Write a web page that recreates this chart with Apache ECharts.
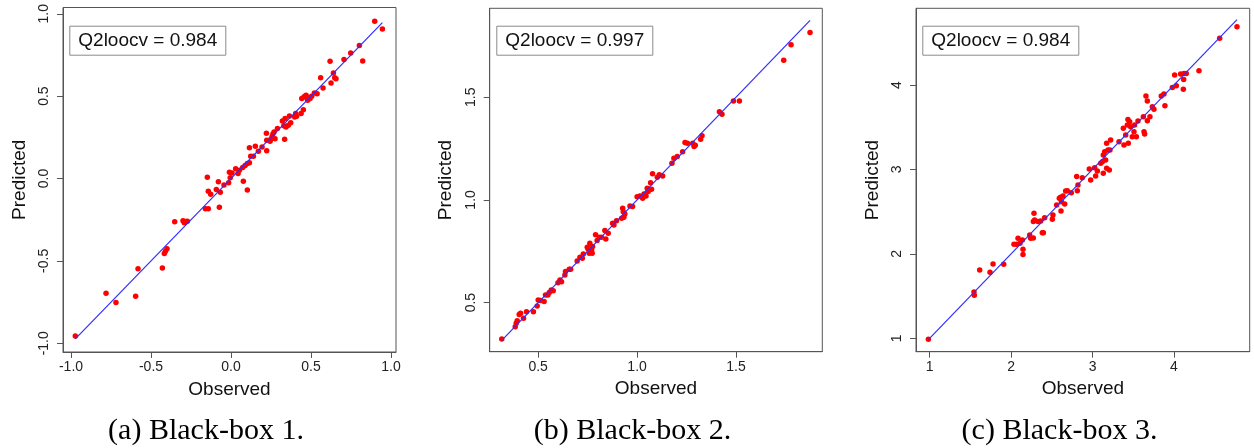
<!DOCTYPE html>
<html><head><meta charset="utf-8">
<script src="https://cdn.jsdelivr.net/npm/echarts@6/dist/echarts.min.js"></script>
<style>html,body{margin:0;padding:0;background:#fff}#c{width:1254px;height:448px}</style>
</head><body><div id="c"></div>
<script>
// ---- Data ----
const obs1 = [-0.973,-0.781,-0.719,-0.596,-0.581,-0.429,-0.417,-0.410,-0.400,-0.352,-0.300,-0.292,-0.283,-0.273,-0.160,-0.142,-0.148,-0.142,-0.127,-0.092,-0.079,-0.067,-0.073,-0.044,-0.015,-0.010,0.006,0.029,0.044,0.052,0.077,0.102,0.073,0.088,0.102,0.115,0.115,0.123,0.140,0.152,0.171,0.194,0.223,0.221,0.223,0.244,0.258,0.269,0.275,0.290,0.335,0.321,0.338,0.344,0.358,0.365,0.373,0.398,0.404,0.410,0.438,0.452,0.442,0.456,0.469,0.479,0.483,0.494,0.504,0.521,0.538,0.560,0.575,0.619,0.625,0.640,0.656,0.706,0.748,0.802,0.823,0.898,0.946,0.250,0.262,0.330,0.462,0.648,-0.005];
const pred1 = [-0.956,-0.697,-0.752,-0.715,-0.547,-0.543,-0.455,-0.441,-0.426,-0.263,-0.257,-0.269,-0.261,-0.259,-0.184,-0.184,0.008,-0.077,-0.095,-0.067,-0.020,-0.083,-0.174,-0.040,-0.026,0.038,0.034,0.059,0.030,0.050,-0.016,-0.069,0.067,0.079,0.091,0.095,0.186,0.135,0.135,0.196,0.166,0.192,0.168,0.275,0.232,0.226,0.257,0.283,0.242,0.303,0.238,0.349,0.364,0.313,0.323,0.380,0.339,0.374,0.394,0.378,0.394,0.418,0.485,0.495,0.505,0.475,0.491,0.485,0.499,0.519,0.515,0.612,0.549,0.711,0.580,0.640,0.606,0.723,0.762,0.808,0.713,0.954,0.907,0.240,0.270,0.320,0.500,0.612,0.005];

const obs2 = [0.316,0.384,0.389,0.394,0.404,0.411,0.426,0.441,0.476,0.495,0.500,0.512,0.530,0.537,0.549,0.556,0.566,0.576,0.600,0.610,0.618,0.635,0.638,0.657,0.664,0.697,0.711,0.723,0.728,0.748,0.753,0.761,0.758,0.770,0.773,0.775,0.790,0.798,0.809,0.820,0.837,0.842,0.854,0.876,0.883,0.896,0.922,0.927,0.930,0.938,0.933,0.964,0.977,1.000,1.014,1.028,1.035,1.045,1.051,1.056,1.068,1.073,1.078,1.102,1.112,1.129,1.176,1.186,1.203,1.230,1.242,1.254,1.281,1.288,1.294,1.321,1.328,1.416,1.429,1.487,1.517,1.741,1.778,1.874];
const pred2 = [0.323,0.383,0.399,0.412,0.442,0.448,0.424,0.456,0.456,0.484,0.513,0.510,0.505,0.537,0.537,0.549,0.562,0.558,0.597,0.610,0.602,0.635,0.651,0.662,0.662,0.703,0.721,0.716,0.737,0.769,0.760,0.789,0.740,0.756,0.740,0.773,0.830,0.802,0.818,0.818,0.851,0.810,0.838,0.886,0.878,0.899,0.911,0.959,0.943,0.932,0.916,0.971,0.968,1.016,1.019,1.008,1.029,1.019,1.057,1.041,1.084,1.052,1.127,1.110,1.122,1.117,1.179,1.203,1.211,1.235,1.279,1.276,1.276,1.260,1.266,1.295,1.312,1.429,1.417,1.482,1.482,1.680,1.755,1.815];

const obs3 = [0.984,1.544,1.548,1.614,1.741,1.778,1.909,2.035,2.068,2.085,2.109,2.138,2.146,2.146,2.228,2.240,2.273,2.281,2.273,2.289,2.330,2.363,2.383,2.396,2.412,2.506,2.514,2.559,2.592,2.608,2.617,2.613,2.637,2.658,2.670,2.690,2.739,2.805,2.813,2.821,2.874,2.960,2.977,3.026,3.038,3.059,3.100,3.120,3.132,3.132,3.149,3.161,3.173,3.173,3.190,3.206,3.222,3.214,3.325,3.378,3.386,3.407,3.427,3.435,3.439,3.456,3.468,3.488,3.509,3.517,3.538,3.558,3.624,3.632,3.640,3.656,3.673,3.673,3.705,3.734,3.754,3.844,3.877,3.889,3.980,4.008,4.029,4.082,4.115,4.119,4.123,4.151,4.307,4.561,4.774];
const pred3 = [0.988,1.549,1.509,1.809,1.782,1.880,1.876,2.113,2.113,2.184,2.125,2.164,2.054,1.991,2.224,2.184,2.188,2.480,2.382,2.401,2.382,2.389,2.251,2.251,2.429,2.409,2.461,2.579,2.658,2.670,2.618,2.508,2.686,2.591,2.745,2.749,2.725,2.915,2.749,2.816,2.903,3.005,2.875,3.021,2.922,2.982,3.072,3.092,2.954,3.171,3.211,3.112,3.013,3.309,3.230,2.993,3.349,3.230,3.329,3.487,3.290,3.408,3.526,3.593,3.309,3.566,3.507,3.388,3.447,3.526,3.388,3.574,3.625,3.447,3.420,3.870,3.811,3.578,3.625,3.743,3.712,3.870,3.893,3.755,3.972,4.118,3.992,4.130,3.949,4.067,4.138,4.138,4.170,4.553,4.691];

const ticks1 = [-1.0, -0.5, 0.0, 0.5, 1.0];
const ticks2 = [0.5, 1.0, 1.5];
const ticks3 = [1, 2, 3, 4];
const q2Values = ['0.984', '0.997', '0.984'];
const captions = ['(a) Black-box 1.', '(b) Black-box 2.', '(c) Black-box 3.'];
const xName = 'Observed', yName = 'Predicted';

// ---- Layout ----
const layout = [
  { grid: {left: 63, top: 7.5, width: 333, height: 344.5}, xr: [-1.05, 1.031], yr: [-1.053, 1.038], box: [69.3, 25.7], cap: [206, 431], dec: 1 },
  { grid: {left: 489.7, top: 8.3, width: 332.6, height: 343.4}, xr: [0.255, 1.936], yr: [0.261, 1.933], box: [496.3, 25.7], cap: [632.5, 431], dec: 1 },
  { grid: {left: 916, top: 8.3, width: 333.7, height: 343.4}, xr: [0.832, 4.93], yr: [0.841, 4.909], box: [922.3, 25.7], cap: [1059.5, 431], dec: 0 }
];
const sets = [[obs1, pred1, ticks1], [obs2, pred2, ticks2], [obs3, pred3, ticks3]];

const grids = [], xAxes = [], yAxes = [], series = [], titles = [], graphics = [];
const sans = '"Liberation Sans", Arial, sans-serif';
layout.forEach((L, i) => {
  const [ob, pr, tk] = sets[i];
  grids.push(Object.assign({show: true, borderColor: '#555', borderWidth: 1, backgroundColor: 'transparent'}, L.grid));
  const fmt = v => Number(v).toFixed(L.dec);
  const common = {
    type: 'value', gridIndex: i, splitLine: {show: false},
    axisLine: {show: true, onZero: false, lineStyle: {color: '#555', width: 1}},
    axisTick: {show: true, length: 6, lineStyle: {color: '#555'}, customValues: tk},
    nameLocation: 'middle',
    nameTextStyle: {fontSize: 19, color: '#111', fontFamily: sans}
  };
  xAxes.push(Object.assign({}, common, {
    min: L.xr[0], max: L.xr[1], name: xName, nameGap: 28,
    axisLabel: {customValues: tk, formatter: fmt, fontSize: 14, color: '#222', margin: 8, fontFamily: sans}
  }));
  yAxes.push(Object.assign({}, common, {
    min: L.yr[0], max: L.yr[1], name: yName, nameGap: 34,
    axisLabel: {customValues: tk, formatter: fmt, fontSize: 14, color: '#222', margin: 12, rotate: 90, fontFamily: sans}
  }));
  series.push({
    type: 'scatter', xAxisIndex: i, yAxisIndex: i, symbolSize: 5.5,
    itemStyle: {color: '#ff0000', opacity: 1}, data: ob.map((v, k) => [v, pr[k]]), z: 2
  });
  const mn = Math.min(...ob), mx = Math.max(...ob);
  series.push({
    type: 'line', xAxisIndex: i, yAxisIndex: i, symbol: 'none', silent: true,
    lineStyle: {color: '#2e2eff', width: 1.2}, data: [[mn, mn], [mx, mx]], z: 3
  });
  titles.push({
    text: 'Q2loocv = ' + q2Values[i], left: L.box[0], top: L.box[1],
    padding: [5, 9], borderColor: '#8a8a8a', borderWidth: 1,
    textStyle: {fontSize: 19, fontWeight: 'normal', color: '#111', fontFamily: sans, lineHeight: 20}
  });
  graphics.push({
    type: 'text', x: L.cap[0], y: L.cap[1],
    style: {text: captions[i], font: '30px "Liberation Serif", "DejaVu Serif", serif', fill: '#000',
            align: 'center', verticalAlign: 'middle', textAlign: 'center', textVerticalAlign: 'middle'}
  });
});

const chart = echarts.init(document.getElementById('c'), null, {renderer: 'canvas'});
chart.setOption({
  animation: false, backgroundColor: '#fff',
  title: titles, grid: grids, xAxis: xAxes, yAxis: yAxes, series: series, graphic: graphics
});
</script></body></html>
